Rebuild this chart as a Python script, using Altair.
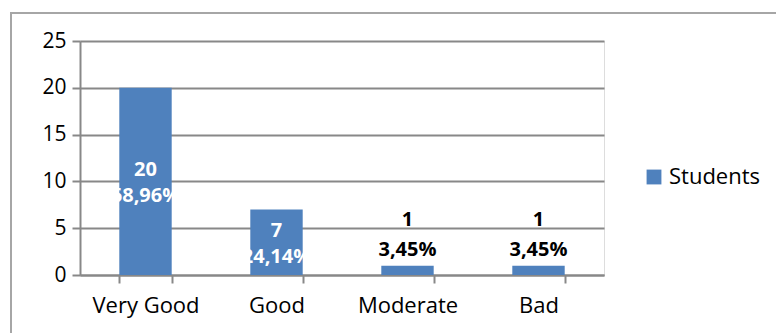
import altair as alt
import pandas as pd

# Survey results: number of students per rating
categories = ["Very Good", "Good", "Moderate", "Bad"]
students = [20, 7, 1, 1]
percents = ["68,96%", "24,14%", "3,45%", "3,45%"]

df = pd.DataFrame({"category": categories, "Students": students, "pct": percents, "series": "Students"})

FONT = "Open Sans"
BLUE = "#4F81BD"
GRID = "#888888"

x_enc = alt.X(
    "category:N",
    sort=categories,
    scale=alt.Scale(paddingInner=0.6, paddingOuter=0.3),
    axis=alt.Axis(
        title=None,
        labelAngle=0,
        labelFont=FONT,
        labelFontSize=22,
        labelColor="#000000",
        labelPadding=12,
        domainColor=GRID,
        domainWidth=2,
        tickColor=GRID,
        tickWidth=2,
        tickSize=8,
        tickBand="extent",
        grid=False,
    ),
)

y_scale = alt.Scale(domain=[0, 25], nice=False)

bars = alt.Chart(df).mark_bar(color=BLUE).encode(
    x=x_enc,
    y=alt.Y(
        "Students:Q",
        scale=y_scale,
        axis=alt.Axis(
            title=None,
            values=[0, 5, 10, 15, 20, 25],
            labelFont=FONT,
            labelFontSize=21,
            labelColor="#000000",
            labelPadding=6,
            domainColor=GRID,
            domainWidth=2,
            tickColor=GRID,
            tickWidth=2,
            tickSize=8,
            gridColor=GRID,
            gridWidth=2,
        ),
    ),
    color=alt.Color(
        "series:N",
        scale=alt.Scale(range=[BLUE]),
        legend=alt.Legend(
            title=None,
            orient="none",
            legendX=563,
            legendY=125,
            symbolType="square",
            symbolSize=220,
            symbolStrokeWidth=0,
            labelFont=FONT,
            labelFontSize=22,
            labelColor="#000000",
            labelOffset=4,
        ),
    ),
)

base = alt.Chart(df).transform_calculate(mid="datum.Students / 2")

inside = base.transform_filter("datum.Students >= 5")
outside = base.transform_filter("datum.Students < 5")


def label(chart, field, yfield, dy, color):
    return chart.mark_text(
        font=FONT, fontSize=20, fontWeight="bold", color=color, dy=dy
    ).encode(
        x=alt.X("category:N", sort=categories),
        y=alt.Y(yfield, scale=y_scale),
        text=f"{field}:N",
    )


layers = [
    bars,
    label(inside, "Students", "mid:Q", -11, "white"),
    label(inside, "pct", "mid:Q", 15, "white"),
    label(outside, "Students", "Students:Q", -46, "black"),
    label(outside, "pct", "Students:Q", -16, "black"),
]

# Outer frame around the chart
frame = alt.Chart(df).mark_rect(fill=None, stroke="#A6A6A6", strokeWidth=2).encode(
    x=alt.value(-69), x2=alt.value(720), y=alt.value(-28), y2=alt.value(300)
)

chart = alt.layer(frame, *layers).properties(
    width=524,
    height=234,
    padding={"left": 80, "top": 41, "right": 172, "bottom": 58},
    autosize=alt.AutoSizeParams(type="none"),
).configure_view(stroke=None).configure(background="white")

chart.save("out.html", embed_options={"renderer": "svg", "actions": False})
